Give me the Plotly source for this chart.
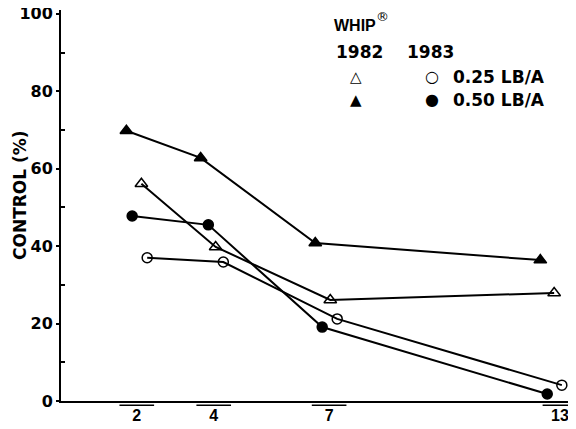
import plotly.graph_objects as go

# Category positions on x axis (days)
days = [2, 4, 7, 13]
day_labels = ["2", "4", "7", "13"]

# Plotted point positions (slightly offset from categories, as drawn)
x_050_1982 = [1.73, 3.66, 6.64, 12.49]
y_050_1982 = [69.8, 62.8, 40.8, 36.4]

x_025_1982 = [2.12, 4.05, 7.03, 12.85]
y_025_1982 = [56.1, 39.8, 26.1, 27.9]

x_050_1983 = [1.88, 3.86, 6.82, 12.67]
y_050_1983 = [47.8, 45.5, 19.1, 1.8]

x_025_1983 = [2.27, 4.25, 7.21, 13.05]
y_025_1983 = [37.0, 35.9, 21.2, 4.1]

y_ticks = [0, 20, 40, 60, 80, 100]
y_minor = [10, 30, 50, 70, 90]

FONT = "DejaVu Sans, sans-serif"
XFONT = "Liberation Sans, Arial, sans-serif"

fig = go.Figure()

def add_series(x, y, symbol, size):
    fig.add_trace(go.Scatter(
        x=x, y=y, mode="lines+markers",
        line=dict(color="black", width=2),
        marker=dict(symbol=symbol, size=size, color="black",
                    line=dict(color="black", width=1.5)),
        showlegend=False, cliponaxis=False))

add_series(x_050_1982, y_050_1982, "triangle-up", 11)
add_series(x_025_1982, y_025_1982, "triangle-up-open", 11)
add_series(x_050_1983, y_050_1983, "circle", 10)
add_series(x_025_1983, y_025_1983, "circle-open", 10)

# small brackets under each category label
for d in days:
    fig.add_shape(type="line", xref="x", yref="paper",
                  x0=d - 0.45, x1=d + 0.45, y0=-0.011, y1=-0.011,
                  line=dict(color="black", width=1.5))

# page pixel -> paper coordinates (plot area spans x 61..568, y 10..401 on the page)
def px_x(p):
    return (p - 61) / 507.0

def px_y(p):
    return (401 - p) / 391.0

def ann(text, x, y, size, anchor="left", family=FONT):
    fig.add_annotation(xref="paper", yref="paper", x=px_x(x), y=px_y(y),
                       xanchor=anchor, yanchor="middle", showarrow=False,
                       text=text, font=dict(family=family, size=size, color="black"))

ann("<b>WHIP</b>", 332, 25, 16, family=XFONT)
ann("\u00ae\ufe0e", 382, 17, 13, anchor="center", family="DejaVu Sans")
ann("<b>1982</b>", 334, 52, 17)
ann("<b>1983</b>", 405, 52, 17)
ann("△", 356, 77, 15, anchor="center")
ann("▲", 356, 100, 15, anchor="center")
ann("○", 432, 77, 16, anchor="center")
ann("●", 432, 100, 16, anchor="center")
ann("<b>0.25 LB/A</b>", 451, 77, 17)
ann("<b>0.50 LB/A</b>", 451, 100, 17)

# y axis title
fig.add_annotation(xref="paper", yref="paper", x=px_x(20), y=px_y(195),
                   xanchor="center", yanchor="middle", showarrow=False, textangle=-90,
                   text="<b>CONTROL (%)</b>", font=dict(family=FONT, size=17, color="black"))

# the page has an 8px body margin, so the figure is shrunk to stay inside the window
fig.update_layout(
    width=560, height=421,
    margin=dict(l=53, r=0, t=2, b=28),
    paper_bgcolor="white", plot_bgcolor="white",
    font=dict(family=FONT, color="black"),
    xaxis=dict(range=[0.03, 13.21], tickvals=days, ticktext=[f"<b>{t}</b>" for t in day_labels],
               ticks="", showgrid=False, zeroline=False, automargin=False,
               showline=True, linecolor="black", linewidth=2,
               ticklabelstandoff=-1, ticklabeloverflow="allow",
               tickfont=dict(family=XFONT, size=16, color="black")),
    yaxis=dict(range=[0, 101], tickvals=y_ticks,
               ticktext=[f"<b>{t}</b>" for t in y_ticks],
               ticks="outside", ticklen=3, tickwidth=1.5, tickcolor="black",
               minor=dict(tickvals=y_minor, ticks="inside", ticklen=4,
                          tickwidth=1.5, tickcolor="black"),
               showgrid=False, zeroline=False, automargin=False,
               showline=True, linecolor="black", linewidth=2,
               ticklabeloverflow="allow",
               tickfont=dict(family=FONT, size=16, color="black")),
)

fig.write_html("out.html")
